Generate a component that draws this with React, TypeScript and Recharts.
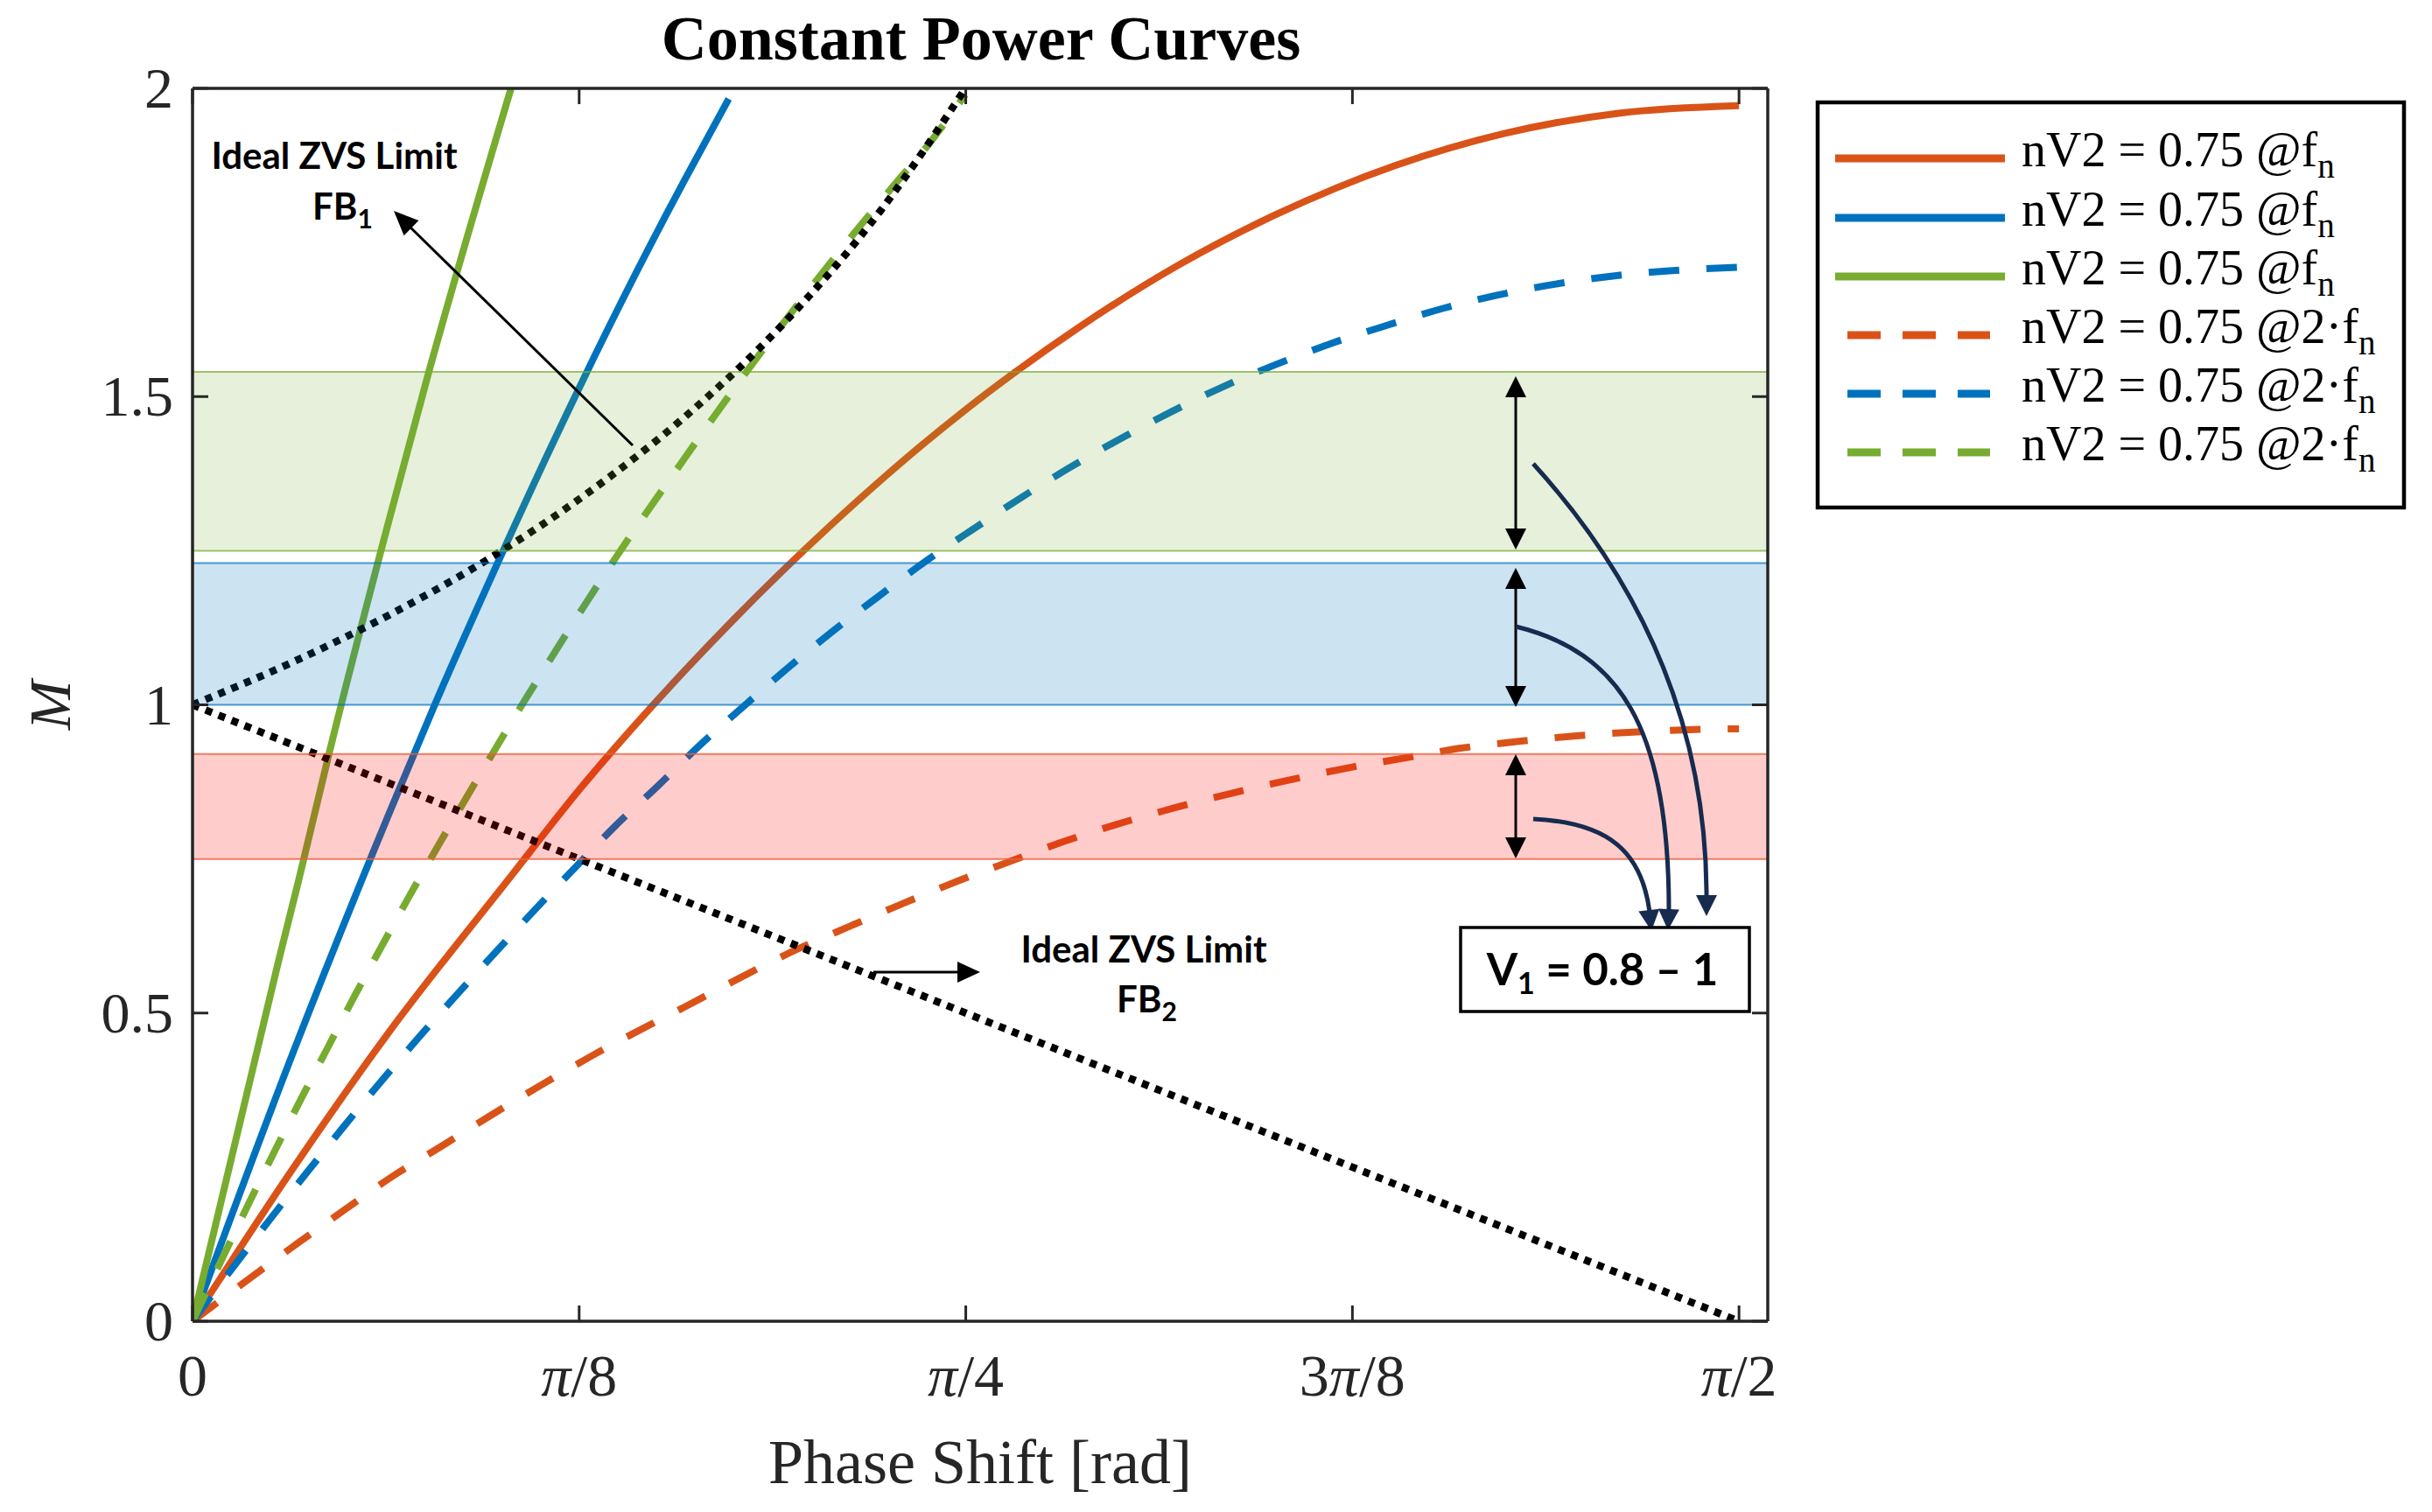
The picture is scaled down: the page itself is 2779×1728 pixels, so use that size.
import React from 'react';
import { LineChart, Line, XAxis, YAxis, ReferenceArea } from 'recharts';

// ---------- data ----------
const xTicks = [0, Math.PI / 8, Math.PI / 4, (3 * Math.PI) / 8, Math.PI / 2];
const xTickLabels = ['0', 'π/8', 'π/4', '3π/8', 'π/2'];
const yTicks = [0, 0.5, 1, 1.5, 2];
const yTickLabels = ['0', '0.5', '1', '1.5', '2'];

const phiSolidOrange = [0, 0.1, 0.2, 0.32, 0.3927, 0.468, 0.55, 0.646, 0.7854, 0.835, 0.9, 1.0, 1.1, 1.222, 1.333, 1.45, 1.5708];
const mSolidOrange = [0, 0.243, 0.47, 0.715, 0.862, 1.0, 1.139, 1.288, 1.479, 1.539, 1.612, 1.712, 1.795, 1.875, 1.927, 1.96, 1.972];

const phiSolidBlue = [0, 0.1, 0.2, 0.246, 0.3, 0.3927, 0.45, 0.5, 0.5446];
const mSolidBlue = [0, 0.427, 0.825, 1.0, 1.195, 1.514, 1.699, 1.852, 1.983];

const phiSolidGreen = [0, 0.087, 0.107, 0.139, 0.198, 0.24, 0.3235];
const mSolidGreen = [0, 0.582, 0.71, 0.923, 1.29, 1.54, 2.0];

const phiDashOrange = [0, 0.0593, 0.108, 0.1555, 0.204, 0.255, 0.304, 0.354, 0.406, 0.5, 0.615, 0.668, 0.722, 0.777, 0.832, 0.881, 1.0, 1.1, 1.178, 1.232, 1.29, 1.349, 1.408, 1.467, 1.525, 1.5708];
const mDashOrange = [0, 0.071, 0.128, 0.182, 0.236, 0.286, 0.335, 0.383, 0.431, 0.51, 0.604, 0.641, 0.678, 0.714, 0.747, 0.776, 0.834, 0.873, 0.899, 0.914, 0.93, 0.941, 0.95, 0.956, 0.96, 0.961];

const phiDashBlue = [0, 0.0444, 0.08, 0.117, 0.1537, 0.191, 0.229, 0.268, 0.308, 0.348, 0.388, 0.429, 0.473, 0.515, 0.56, 0.604, 0.65, 0.696, 0.743, 0.791, 0.889, 0.944, 0.995, 1.048, 1.102, 1.158, 1.214, 1.27, 1.324, 1.45, 1.5708];
const mDashBlue = [0, 0.0944, 0.168, 0.243, 0.316, 0.388, 0.459, 0.529, 0.599, 0.668, 0.735, 0.803, 0.869, 0.934, 0.998, 1.059, 1.119, 1.175, 1.231, 1.283, 1.383, 1.433, 1.476, 1.517, 1.553, 1.587, 1.616, 1.643, 1.664, 1.697, 1.71];

const phiDashGreen = [0, 0.0326, 0.0577, 0.0853, 0.11, 0.1377, 0.1644, 0.192, 0.22, 0.249, 0.278, 0.307, 0.337, 0.367, 0.398, 0.43, 0.459, 0.495, 0.529, 0.563, 0.599, 0.635, 0.672, 0.71, 0.748, 0.785];
const mDashGreen = [0, 0.11, 0.193, 0.282, 0.36, 0.445, 0.527, 0.608, 0.689, 0.77, 0.849, 0.927, 1.006, 1.083, 1.161, 1.239, 1.307, 1.389, 1.466, 1.541, 1.617, 1.691, 1.765, 1.838, 1.91, 1.99];

const phiZvs1 = [0, 0.1, 0.2, 0.3, 0.4, 0.5, 0.6, 0.7, 0.785];
const mZvs1 = [1.0, 1.068, 1.146, 1.236, 1.342, 1.467, 1.618, 1.804, 2.0];

const phiZvs2 = [0, 0.3927, 0.7854, 1.1781, 1.5708];
const mZvs2 = [1.0, 0.75, 0.5, 0.25, 0];

const bandGreen = [1.25, 1.54];
const bandBlue = [1.0, 1.23];
const bandRed = [0.75, 0.92];

const legendMain = ['nV2 = 0.75 @f', 'nV2 = 0.75 @f', 'nV2 = 0.75 @f', 'nV2 = 0.75 @2·f', 'nV2 = 0.75 @2·f', 'nV2 = 0.75 @2·f'];
const legendSub = ['n', 'n', 'n', 'n', 'n', 'n'];

// ---------- styling / layout ----------
const W = 2779;
const H = 1728;
const PL = 220;
const PT = 101;
const PR = 2020;
const PB = 1510;
const YAXW = 100;
const XAXH = 100;

const ORANGE = '#D95319';
const BLUE = '#0072BD';
const GREEN = '#77AC30';
const AX = '#262626';
const NAVY = '#172B4F';
const SERIF = "'Liberation Serif', 'Times New Roman', serif";
const SANS = "Lato, 'Open Sans', sans-serif";

const legendColors = [ORANGE, BLUE, GREEN, ORANGE, BLUE, GREEN];
const legendDashed = [false, false, false, true, true, true];

const toPts = (xs: number[], ys: number[]) => xs.map((x, i) => ({ phi: x, m: ys[i] }));

const XTick = (props: any) => {
  const { x, payload } = props;
  const idx = xTicks.findIndex((t) => Math.abs(t - payload.value) < 1e-6);
  const label = idx >= 0 ? xTickLabels[idx] : '';
  const parts = label.split('π');
  return (
    <g>
      <line x1={x} y1={PB} x2={x} y2={PB - 18} stroke={AX} strokeWidth={3} />
      <line x1={x} y1={PT} x2={x} y2={PT + 18} stroke={AX} strokeWidth={3} />
      <text x={x} y={PB + 85} textAnchor="middle" fontFamily={SERIF} fontSize={68} fill={AX}>
        {parts.length === 2 ? (
          <>
            {parts[0]}
            <tspan fontStyle="italic">π</tspan>
            {parts[1]}
          </>
        ) : (
          label
        )}
      </text>
    </g>
  );
};

const YTick = (props: any) => {
  const { x, y, payload } = props;
  const idx = yTicks.findIndex((t) => Math.abs(t - payload.value) < 1e-6);
  const label = idx >= 0 ? yTickLabels[idx] : '';
  return (
    <g>
      <line x1={PL} y1={y} x2={PL + 18} y2={y} stroke={AX} strokeWidth={3} />
      <line x1={PR} y1={y} x2={PR - 18} y2={y} stroke={AX} strokeWidth={3} />
      <text x={x - 22} y={y + 22} textAnchor="end" fontFamily={SERIF} fontSize={66} fill={AX}>
        {label}
      </text>
    </g>
  );
};

const head = (tx: number, ty: number, fx: number, fy: number, len: number, half: number) => {
  const dx = tx - fx;
  const dy = ty - fy;
  const d = Math.sqrt(dx * dx + dy * dy) || 1;
  const ux = dx / d;
  const uy = dy / d;
  const bx = tx - ux * len;
  const by = ty - uy * len;
  const px = -uy;
  const py = ux;
  return `${tx},${ty} ${bx + px * half},${by + py * half} ${bx - px * half},${by - py * half}`;
};

const DoubleArrow = ({ x, y1, y2 }: { x: number; y1: number; y2: number }) => (
  <g>
    <line x1={x} y1={y1 + 20} x2={x} y2={y2 - 20} stroke="#000" strokeWidth={3} />
    <polygon points={head(x, y1, x, y1 + 10, 24, 12)} fill="#000" />
    <polygon points={head(x, y2, x, y2 - 10, 24, 12)} fill="#000" />
  </g>
);

const Overlay = () => {
  const rows = [181, 249, 316, 383, 450, 517];
  return (
    <svg width={W} height={H} style={{ position: 'absolute', left: 0, top: 0, pointerEvents: 'none' }}>
      {/* frame top/right */}
      <line x1={PL} y1={PT} x2={PR} y2={PT} stroke={AX} strokeWidth={3.5} />
      <line x1={PR} y1={PT} x2={PR} y2={PB} stroke={AX} strokeWidth={3.5} />

      {/* title and axis labels */}
      <text x={1121} y={68} textAnchor="middle" fontFamily={SERIF} fontWeight="bold" fontSize={72} fill="#000">
        Constant Power Curves
      </text>
      <text x={1120} y={1695} textAnchor="middle" fontFamily={SERIF} fontSize={72} fill={AX}>
        Phase Shift [rad]
      </text>
      <text
        x={80}
        y={806}
        textAnchor="middle"
        fontFamily={SERIF}
        fontStyle="italic"
        fontSize={68}
        fill={AX}
        transform="rotate(-90 80 806)"
      >
        M
      </text>

      {/* FB1 annotation */}
      <text x={382} y={193} textAnchor="middle" fontFamily={SANS} fontWeight="bold" fontSize={42} fill="#000">
        Ideal ZVS Limit
      </text>
      <text x={357} y={251} fontFamily={SANS} fontWeight="bold" fontSize={42} fill="#000">
        FB<tspan fontSize={30} dy={10}>1</tspan>
      </text>
      <line x1={723} y1={509} x2={465} y2={256} stroke="#000" strokeWidth={3} />
      <polygon points={head(450, 241, 723, 509, 28, 12)} fill="#000" />

      {/* FB2 annotation */}
      <text x={1307} y={1100} textAnchor="middle" fontFamily={SANS} fontWeight="bold" fontSize={42} fill="#000">
        Ideal ZVS Limit
      </text>
      <text x={1276} y={1157} fontFamily={SANS} fontWeight="bold" fontSize={42} fill="#000">
        FB<tspan fontSize={30} dy={10}>2</tspan>
      </text>
      <line x1={998} y1={1111} x2={1100} y2={1111} stroke="#000" strokeWidth={3} />
      <polygon points={head(1120, 1111, 998, 1111, 26, 12)} fill="#000" />

      {/* band double arrows */}
      <DoubleArrow x={1732} y1={430} y2={628} />
      <DoubleArrow x={1732} y1={649} y2={808} />
      <DoubleArrow x={1732} y1={862} y2={981} />

      {/* curved arrows */}
      <path d="M1752,530 C1870,660 1950,820 1950,1024" fill="none" stroke={NAVY} strokeWidth={5} />
      <polygon points={head(1950, 1047, 1950, 1020, 24, 12)} fill={NAVY} />
      <path d="M1732,716 C1850,745 1907,830 1907,1040" fill="none" stroke={NAVY} strokeWidth={5} />
      <polygon points={head(1906, 1063, 1907, 1036, 24, 12)} fill={NAVY} />
      <path d="M1752,936 C1840,940 1876,975 1885,1042" fill="none" stroke={NAVY} strokeWidth={5} />
      <polygon points={head(1887, 1064, 1884, 1038, 24, 12)} fill={NAVY} />

      {/* V1 box */}
      <rect x={1669} y={1060} width={330} height={96} fill="#fff" stroke="#000" strokeWidth={3.5} />
      <text x={1831} y={1126} textAnchor="middle" fontFamily={SANS} fontWeight="bold" fontSize={51} fill="#000">
        V<tspan fontSize={34} dy={10}>1</tspan>
        <tspan dy={-10}> = 0.8 – 1</tspan>
      </text>

      {/* legend */}
      <rect x={2077} y={117} width={670} height={463} fill="#fff" stroke="#000" strokeWidth={4.5} />
      {rows.map((ry, i) => (
        <g key={i}>
          {legendDashed[i] ? (
            <line x1={2111} y1={ry} x2={2274} y2={ry} stroke={legendColors[i]} strokeWidth={9} strokeDasharray="38 25" />
          ) : (
            <line x1={2097} y1={ry} x2={2291} y2={ry} stroke={legendColors[i]} strokeWidth={9} />
          )}
          <text x={2310} y={ry + 9} fontFamily={SERIF} fontSize={56} fill="#000">
            {legendMain[i]}
            <tspan fontSize={39} dy={13}>
              {legendSub[i]}
            </tspan>
          </text>
        </g>
      ))}
    </svg>
  );
};

export default function App() {
  const solidW = 8;
  const dash = '35 31';
  const dot = '8 8';
  return (
    <div style={{ position: 'absolute', left: 0, top: 0, width: W, height: H, background: '#fff' }}>
      <LineChart
        width={W}
        height={H}
        margin={{ top: PT, right: W - PR, bottom: H - PB - XAXH, left: PL - YAXW }}
      >
        <XAxis
          dataKey="phi"
          type="number"
          domain={[0, 1.6]}
          ticks={xTicks}
          interval={0}
          allowDataOverflow
          height={XAXH}
          tickLine={false}
          tickSize={0}
          tickMargin={0}
          tick={<XTick />}
          axisLine={{ stroke: AX, strokeWidth: 3.5 }}
        />
        <YAxis
          type="number"
          domain={[0, 2]}
          ticks={yTicks}
          interval={0}
          allowDataOverflow
          width={YAXW}
          tickLine={false}
          tickSize={0}
          tickMargin={0}
          tick={<YTick />}
          axisLine={{ stroke: AX, strokeWidth: 3.5 }}
        />
        <Line data={toPts(phiSolidOrange, mSolidOrange)} dataKey="m" type="monotone" stroke={ORANGE} strokeWidth={solidW} dot={false} activeDot={false} isAnimationActive={false} />
        <Line data={toPts(phiSolidBlue, mSolidBlue)} dataKey="m" type="monotone" stroke={BLUE} strokeWidth={solidW} dot={false} activeDot={false} isAnimationActive={false} />
        <Line data={toPts(phiSolidGreen, mSolidGreen)} dataKey="m" type="monotone" stroke={GREEN} strokeWidth={solidW} dot={false} activeDot={false} isAnimationActive={false} />
        <Line data={toPts(phiDashOrange, mDashOrange)} dataKey="m" type="monotone" stroke={ORANGE} strokeWidth={solidW} strokeDasharray={dash} dot={false} activeDot={false} isAnimationActive={false} />
        <Line data={toPts(phiDashBlue, mDashBlue)} dataKey="m" type="monotone" stroke={BLUE} strokeWidth={solidW} strokeDasharray={dash} dot={false} activeDot={false} isAnimationActive={false} />
        <Line data={toPts(phiDashGreen, mDashGreen)} dataKey="m" type="monotone" stroke={GREEN} strokeWidth={solidW} strokeDasharray={dash} dot={false} activeDot={false} isAnimationActive={false} />
        <Line data={toPts(phiZvs1, mZvs1)} dataKey="m" type="monotone" stroke="#000" strokeWidth={8.5} strokeDasharray={dot} dot={false} activeDot={false} isAnimationActive={false} />
        <Line data={toPts(phiZvs2, mZvs2)} dataKey="m" type="linear" stroke="#000" strokeWidth={8.5} strokeDasharray={dot} dot={false} activeDot={false} isAnimationActive={false} />
        <ReferenceArea x1={0} x2={1.6} y1={bandGreen[0]} y2={bandGreen[1]} fill={GREEN} fillOpacity={0.18} stroke={GREEN} strokeOpacity={0.7} strokeWidth={2} zIndex={450} ifOverflow="hidden" />
        <ReferenceArea x1={0} x2={1.6} y1={bandBlue[0]} y2={bandBlue[1]} fill={BLUE} fillOpacity={0.2} stroke={BLUE} strokeOpacity={0.7} strokeWidth={2} zIndex={450} ifOverflow="hidden" />
        <ReferenceArea x1={0} x2={1.6} y1={bandRed[0]} y2={bandRed[1]} fill="#FF0000" fillOpacity={0.2} stroke="#E8603C" strokeOpacity={0.8} strokeWidth={2} zIndex={450} ifOverflow="hidden" />
      </LineChart>
      <Overlay />
    </div>
  );
}
